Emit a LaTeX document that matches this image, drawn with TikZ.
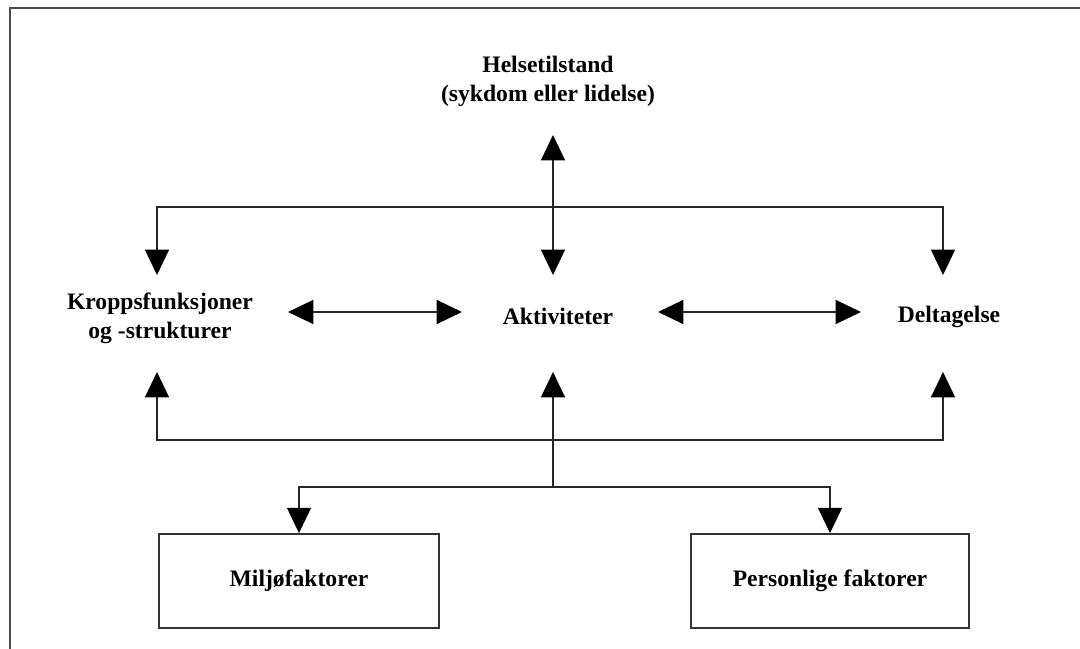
\documentclass[tikz,border=0pt]{standalone}
\usepackage{fontspec}
\setmainfont{Liberation Serif}
\usetikzlibrary{arrows.meta}

\tikzset{
  lbl/.style={font=\fontsize{16.8}{21.3}\selectfont\bfseries, align=center, inner sep=0pt},
  factorbox/.style={lbl, draw=black!80, line width=1.3pt, minimum width=#1, minimum height=2.35cm},
  link/.style={draw=black!85, line width=1.2pt},
  oneway/.style={link, -{Triangle[length=18pt,width=17pt,color=black]}},
  twoway/.style={link, {Triangle[length=18pt,width=17pt,color=black]}-{Triangle[length=18pt,width=17pt,color=black]}},
}

\begin{document}
\begin{tikzpicture}[x=0.025cm,y=-0.025cm]
  \useasboundingbox (0,0) rectangle (1080,649);
  \draw[black!70,line width=1.8pt] (10,649) -- (10,8) -- (1080,8);

% labels and boxes
  \node[lbl,anchor=base] (health) at (548,102) {Helsetilstand\\(sykdom eller lidelse)};
  \node[lbl,anchor=base] (body) at (160,339) {Kroppsfunksjoner\\og -strukturer};
  \node[lbl,anchor=base] (act) at (558,325) {Aktiviteter};
  \node[lbl,anchor=base] (part) at (949,323) {Deltagelse};
  \node[factorbox=7cm] (env) at (299,581) {Miljøfaktorer};
  \node[factorbox=6.95cm] (pers) at (830,581) {Personlige faktorer};

% tips and corners
  \coordinate (hTip) at (553,135);
  \coordinate (aTop) at (553,275);
  \coordinate (aBot) at (553,372);
  \coordinate (kTop) at (157,275);
  \coordinate (kBot) at (157,372);
  \coordinate (dTop) at (943,275);
  \coordinate (dBot) at (943,372);
  \coordinate (topL) at (157,207);
  \coordinate (topR) at (943,207);
  \coordinate (botL) at (157,440);
  \coordinate (botR) at (943,440);
  \coordinate (fork) at (553,487);
  \coordinate (kaL) at (288,312);
  \coordinate (kaR) at (462,312);
  \coordinate (adL) at (658,312);
  \coordinate (adR) at (861,312);

% upper links
  \draw[twoway] (hTip) -- (aTop);
  \draw[twoway] (kTop) -- (topL) -- (topR) -- (dTop);

% middle row
  \draw[twoway] (kaL) -- (kaR);
  \draw[twoway] (adL) -- (adR);

% lower links
  \draw[twoway] (kBot) -- (botL) -- (botR) -- (dBot);
  \draw[oneway] (fork) -- (aBot);
  \draw[oneway] (fork) -| (env);
  \draw[oneway] (fork) -| (pers);

\end{tikzpicture}
\end{document}
